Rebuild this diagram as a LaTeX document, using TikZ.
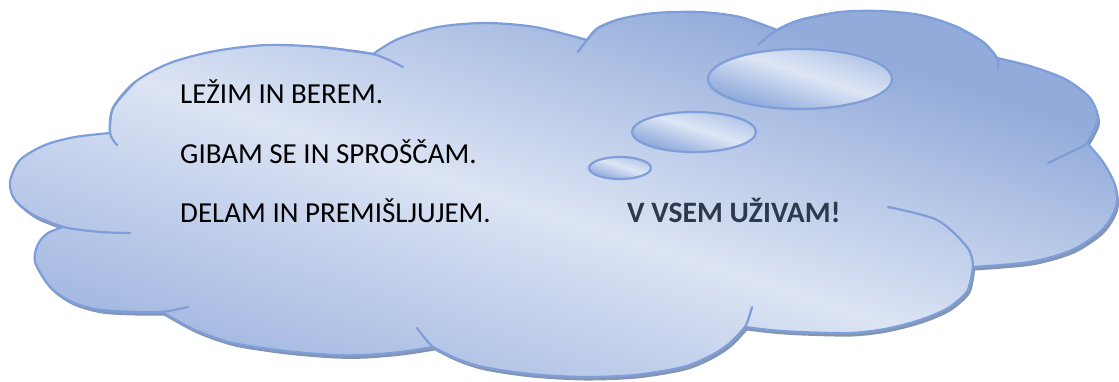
\documentclass[tikz,border=0pt]{standalone}
\usepackage{fontspec}
\setmainfont{Carlito}
\definecolor{cloudline}{RGB}{125,158,216}
\definecolor{clouddark}{RGB}{146,171,218}
\definecolor{cloudlow}{RGB}{160,181,224}
\definecolor{cloudlight}{RGB}{220,228,244}
\definecolor{shadowcol}{RGB}{132,149,180}
\definecolor{bubbletop}{RGB}{168,189,228}
\definecolor{bubblebot}{RGB}{143,170,220}
\definecolor{bubblelight}{RGB}{222,230,245}
\definecolor{boldtext}{RGB}{45,58,75}
\pgfdeclareverticalshading{cloudgrad}{100bp}{color(0bp)=(cloudlow); color(37.5bp)=(cloudlow); color(50bp)=(cloudlight); color(62.5bp)=(clouddark); color(100bp)=(clouddark)}
\pgfdeclareverticalshading{bubblegrad}{100bp}{color(0bp)=(bubblebot); color(37.5bp)=(bubblebot); color(50bp)=(bubblelight); color(62.5bp)=(bubbletop); color(100bp)=(bubbletop)}
\newcommand\drawbubble[4]{%
  \begin{scope}
    \clip (#1,#2) ellipse [x radius=#3pt, y radius=#4pt];
    \shade[shading=bubblegrad, transform canvas={rotate around={-18:(#1,#2)}}]
      ({#1-2*#3},{#2-0.2*#4-3*#4}) rectangle ({#1+2*#3},{#2-0.2*#4+3*#4});
  \end{scope}
  \draw[outl] (#1,#2) ellipse [x radius=#3pt, y radius=#4pt];
}
\begin{document}
\begin{tikzpicture}[x=1pt,y=-1pt,
  outl/.style={draw=cloudline, line width=2.2pt, line join=round, line cap=round},
  extension/.style={draw=cloudline, line width=2.2pt, line cap=round},
  txt/.style={anchor=base west, inner sep=0pt, font=\fontsize{29}{34}\selectfont},
  cloudshape/.style={insert path={
    plot[smooth] coordinates {(110,133) (113,108) (135,82) (170,63) (215,51) (267,45) (320,47) (373,54)}
    -- plot[smooth] coordinates {(373,54) (398,39) (438,27) (485,23) (535,27) (587,40)}
    -- plot[smooth] coordinates {(587,40) (598,28) (620,19) (655,13) (700,12) (740,17) (777,30)}
    -- plot[smooth] coordinates {(777,30) (800,20) (840,12) (880,11) (920,15) (955,26) (983,42) (997,58)}
    -- plot[smooth] coordinates {(997,58) (1030,66) (1065,79) (1090,98) (1098,120) (1087,143)}
    -- plot[smooth] coordinates {(1087,143) (1103,162) (1115,185) (1116,207) (1102,230) (1072,250) (1030,262) (973,267)}
    -- plot[smooth] coordinates {(973,267) (968,290) (948,308) (920,320) (885,329) (850,333) (800,332) (770,330) (745,327)}
    -- plot[smooth] coordinates {(745,327) (730,343) (710,356) (683,367) (635,375) (583,377) (530,374) (483,367) (455,358) (433,347)}
    -- plot[smooth] coordinates {(433,347) (400,352) (365,355) (333,355) (285,351) (233,343) (195,330) (162,312)}
    -- plot[smooth] coordinates {(162,312) (133,312) (100,310) (72,302) (50,287) (35,262) (38,244) (48,233) (63,227)}
    -- plot[smooth] coordinates {(63,227) (35,216) (15,200) (10,182) (20,160) (45,145) (75,137) (110,133)}
    -- cycle}}
]
\useasboundingbox (0,0) rectangle (1119,381);
% shadow
\fill[shadowcol, shift={(2,3.5)}, cloudshape];
% cloud body gradient
\begin{scope}
  \clip[cloudshape];
  \shade[shading=cloudgrad, transform canvas={rotate around={-18:(600,230)}}] (-700,-270) rectangle (1900,730);
\end{scope}
\draw[outl, cloudshape];
% inner arc extensions
\draw[extension] plot[smooth] coordinates {(135,82) (113,108) (110,133) (117,145)};
\draw[extension] plot[smooth] coordinates {(320,47) (373,54) (403,67)};
\draw[extension] plot[smooth] coordinates {(620,19) (598,28) (587,40) (578,52)};
\draw[extension] plot[smooth] coordinates {(840,12) (800,20) (777,30) (758,45)};
\draw[extension] plot[smooth] coordinates {(955,26) (983,42) (997,58) (998,68)};
\draw[extension] plot[smooth] coordinates {(1098,120) (1087,143) (1073,151) (1048,163)};
\draw[extension] plot[smooth] coordinates {(968,290) (973,267) (967,247) (937,220) (888,207)};
\draw[extension] plot[smooth] coordinates {(730,343) (745,327) (752,307)};
\draw[extension] plot[smooth] coordinates {(455,358) (433,347) (417,328)};
\draw[extension] plot[smooth] coordinates {(100,310) (133,312) (162,312) (188,307)};
\draw[extension] plot[smooth] coordinates {(35,216) (63,227) (100,232) (130,233)};
% thought bubbles
\drawbubble{800}{79}{92}{30}
\drawbubble{694}{132}{62}{20}
\drawbubble{620}{168}{31}{11}
% texts
\node[txt] (t1) at (180,103) {LEŽIM IN BEREM.};
\node[txt] (t2) at (180,163) {GIBAM SE IN SPROŠČAM.};
\node[txt] (t3) at (180,222) {DELAM IN PREMIŠLJUJEM.};
\node[txt, font=\fontsize{29.6}{34}\selectfont\bfseries, text=boldtext] (t4) at (627,222) {V VSEM UŽIVAM!};
\end{tikzpicture}
\end{document}
